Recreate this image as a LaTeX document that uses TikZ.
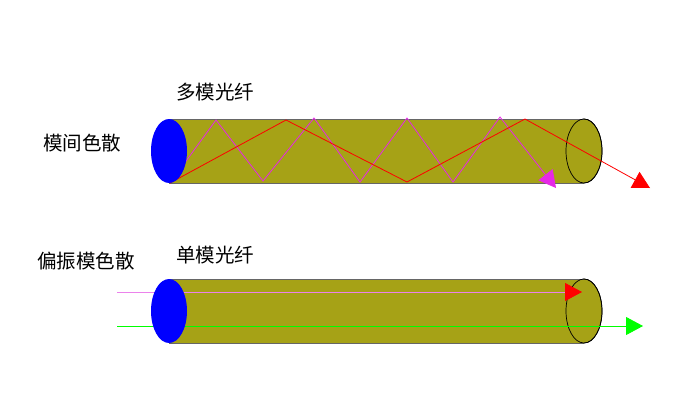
\documentclass[tikz,border=0pt]{standalone}
\usepackage{fontspec}
\setmainfont{Noto Sans CJK SC}
\usetikzlibrary{arrows.meta}
\definecolor{fiber}{RGB}{166,162,22}
\definecolor{mag}{RGB}{230,40,230}
\definecolor{pinkl}{RGB}{235,130,235}
\tikzset{
  endface/.style={fill=fiber,draw=black,line width=0.7pt},
  core/.style={fill=blue,draw=none},
  lbl/.style={font=\fontsize{19.5}{22}\selectfont,inner sep=0pt},
  tri/.style={-{Triangle[length=17pt,width=18pt]}},
}
\begin{document}
\begin{tikzpicture}[x=1pt,y=-1pt]
\useasboundingbox (0,0) rectangle (700,400);
% top fiber
\filldraw[endface] (584,151) ellipse [x radius=18,y radius=32];
\fill[fiber] (169,119) rectangle (584,183);
\draw[black!60,line width=0.8pt] (169,119) -- (584,119) (169,183) -- (584,183);
\draw[endface,fill=none] (584,151) ellipse [x radius=18,y radius=32];
\draw[mag,line width=0.8pt,tri] (170,183) -- (216,120) -- (263,181) -- (314,118) -- (360,182) -- (407,118) -- (453,182) -- (500,117) -- (556,188);
\draw[red,line width=0.8pt,tri] (170,183) -- (286,120) -- (407,182) -- (525,119) -- (650,188);
\fill[core] (169,151) ellipse [x radius=18,y radius=32];
% bottom fiber
\filldraw[endface] (584,311) ellipse [x radius=18,y radius=32];
\fill[fiber] (169,279) rectangle (584,343);
\draw[black!60,line width=0.8pt] (169,279) -- (584,279) (169,343) -- (584,343);
\draw[endface,fill=none] (584,311) ellipse [x radius=18,y radius=32];
\draw[pinkl,line width=0.8pt,-{Triangle[length=17pt,width=18pt,fill=red,color=red]}] (117,292) -- (582,292);
\draw[green,line width=0.8pt,tri] (117,326) -- (643,326);
\fill[core] (169,311) ellipse [x radius=18,y radius=32];
% labels
\node[lbl] (t1) at (215,92) {多模光纤};
\node[lbl] (t2) at (82,143) {模间色散};
\node[lbl] (t3) at (86,261) {偏振模色散};
\node[lbl] (t4) at (215,255) {单模光纤};
\end{tikzpicture}
\end{document}
